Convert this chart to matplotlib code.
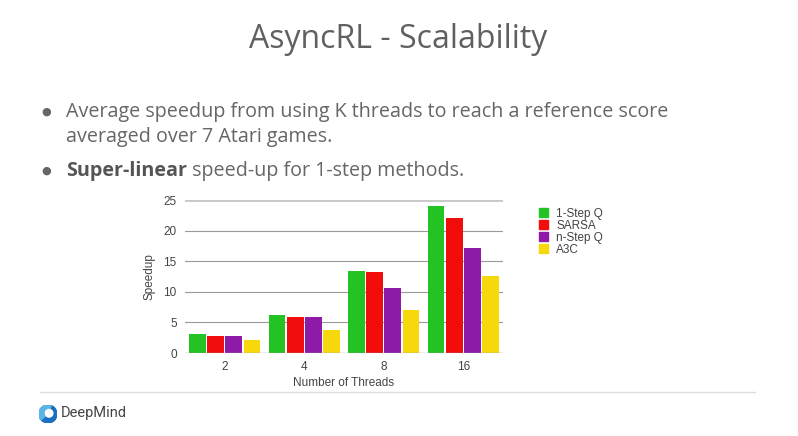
import matplotlib.pyplot as plt
import matplotlib.patches as mpatches
from matplotlib.patches import Circle, Wedge
import numpy as np

threads = ["2", "4", "8", "16"]
methods = ["1-Step Q", "SARSA", "n-Step Q", "A3C"]
one_step_q = [3.05, 6.25, 13.35, 24.1]
sarsa = [2.85, 5.95, 13.2, 22.05]
n_step_q = [2.8, 5.95, 10.7, 17.2]
a3c = [2.1, 3.75, 6.95, 12.55]
colors = ["#22c322", "#f20d0d", "#8e1aa8", "#f7d80c"]

W, H = 798, 436
fig = plt.figure(figsize=(W / 100, H / 100), dpi=100)
fig.patch.set_facecolor("white")

slide_font = ["Open Sans", "DejaVu Sans"]
chart_font = ["Liberation Sans", "DejaVu Sans"]


def fx(px):
    return px / W


def fy(py):
    return 1 - py / H


# slide title and bullets
fig.text(fx(398), fy(39), "AsyncRL - Scalability", ha="center", va="center",
         fontsize=23, color="#606060", family=slide_font)

fs = 14.2
fig.text(fx(46), fy(112), "\u25cf", ha="center", va="center", fontsize=8, color="#666666")
fig.text(fx(66), fy(112), "Average speedup from using K threads to reach a reference score",
         ha="left", va="center", fontsize=fs, color="#666666", family=slide_font)
fig.text(fx(66), fy(137), "averaged over 7 Atari games.",
         ha="left", va="center", fontsize=fs, color="#666666", family=slide_font)
fig.text(fx(46), fy(171), "\u25cf", ha="center", va="center", fontsize=8, color="#666666")
t = fig.text(fx(66), fy(171), "Super-linear", ha="left", va="center", fontsize=fs,
             color="#555555", family=slide_font, fontweight="bold")
fig.canvas.draw()
bb = t.get_window_extent()
fig.text(bb.x1 / W, fy(171), " speed-up for 1-step methods.", ha="left", va="center",
         fontsize=fs, color="#666666", family=slide_font)

# chart
ax = fig.add_axes([fx(185), fy(353), fx(503) - fx(185), fy(200) - fy(353)])
x = np.arange(len(threads))
step, width = 0.228, 0.21
for k, (vals, col, name) in enumerate(zip([one_step_q, sarsa, n_step_q, a3c], colors, methods)):
    ax.bar(x + (k - 1.5) * step, vals, width=width, color=col, label=name, zorder=3)

ax.set_xlim(-0.5, 3.5)
ax.set_ylim(0, 25)
ax.set_yticks([0, 5, 10, 15, 20, 25])
ax.set_xticks(x)
ax.set_xticklabels(threads)
for s in ax.spines.values():
    s.set_visible(False)
for yv in [5, 10, 15, 20]:
    ax.axhline(yv, color="#999999", lw=0.8, zorder=1)
ax.axhline(25, color="#c8c8c8", lw=2, zorder=1)
ax.axhline(0, color="#999999", lw=1, zorder=4)
ax.tick_params(length=0, labelsize=8.5, labelcolor="#444444", pad=6)
for lab in ax.get_xticklabels() + ax.get_yticklabels():
    lab.set_family(chart_font)
ax.set_ylabel("Speedup", fontsize=8.5, color="#444444", family=chart_font, labelpad=6)
ax.set_xlabel("Number of Threads", fontsize=8.5, color="#444444", family=chart_font, labelpad=3)

handles = [mpatches.Patch(color=c, label=m) for c, m in zip(colors, methods)]
fig.legend(handles=handles, loc="upper left", bbox_to_anchor=(fx(534), fy(203)),
           frameon=False, prop={"family": chart_font, "size": 8.5},
           handlelength=0.8, handleheight=0.8, handletextpad=0.7,
           labelspacing=0.0, borderaxespad=0, labelcolor="#444444")

# footer
fig.add_artist(plt.Line2D([fx(40), fx(755)], [fy(392), fy(392)], color="#dddddd", lw=1))
logo_ax = fig.add_axes([fx(39), fy(423), fx(18), fy(405) - fy(423)])
logo_ax.set_xlim(-1, 1)
logo_ax.set_ylim(-1, 1)
logo_ax.set_aspect("equal")
logo_ax.axis("off")
logo_ax.add_patch(Circle((0, 0), 1, color="#1b6fc0"))
logo_ax.add_patch(Wedge((0, 0), 1, 70, 220, width=0.55, color="#5bb6e6"))
logo_ax.add_patch(Circle((0.12, 0.08), 0.42, color="white"))
fig.text(fx(61), fy(413), "DeepMind", ha="left", va="center", fontsize=10.5,
         color="#444444", family=["Roboto", "DejaVu Sans"])

fig.savefig("out.png", dpi=100, facecolor="white")
